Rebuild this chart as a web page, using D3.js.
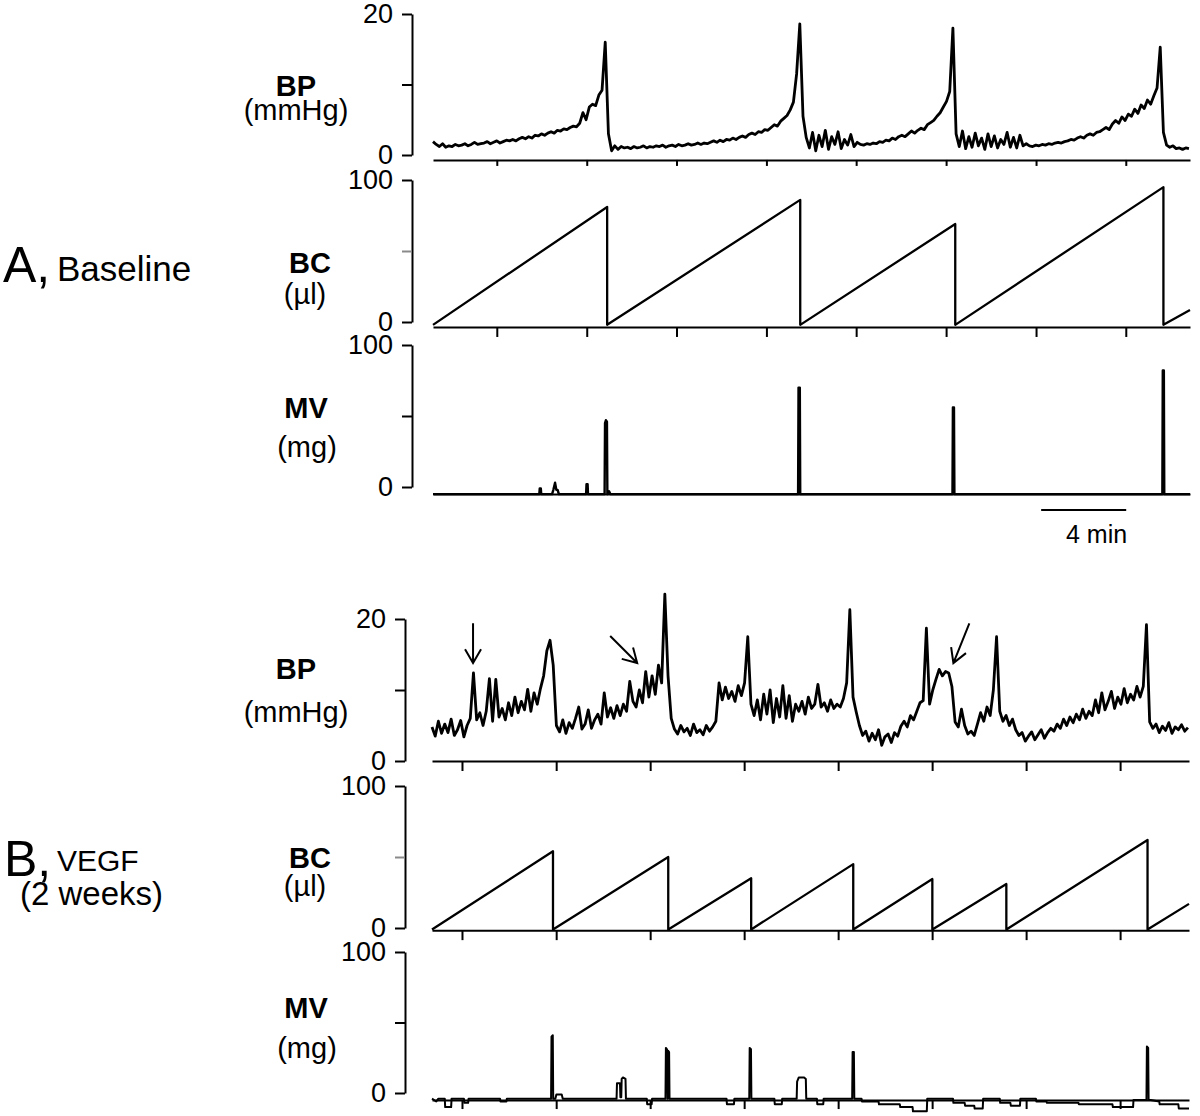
<!DOCTYPE html>
<html>
<head>
<meta charset="utf-8">
<script src="https://cdn.jsdelivr.net/npm/d3@7"></script>
<style>
  body { margin: 0; background: #fff; }
  svg text { font-family: 'Liberation Sans', Arial, Helvetica, sans-serif; fill: #000; }
</style>
</head>
<body>
<svg id="chart" width="1200" height="1116"></svg>
<script>
// ---- data (time in minutes) ----

// bladder pressure, one sample every 0.15 min
const bpStep = 0.15;
const bpBaseline = [
	1.9, 1.5, 1.2, 1.6, 1.1, 1.3, 1.2, 1.5, 1.3, 1.4, 1.6, 1.3,
	1.5, 1.8, 1.5, 1.6, 1.7, 1.9, 1.6, 1.8, 2.0, 1.7, 1.9, 2.1,
	2.0, 2.2, 2.0, 2.3, 2.5, 2.3, 2.6, 2.4, 2.8, 2.7, 3.0, 2.8,
	3.1, 3.3, 3.1, 3.5, 3.4, 3.7, 3.6, 3.9, 4.1, 4.0,
	4.5, 6.0, 5.0, 6.8, 7.2, 7.0, 8.5, 9.2, 16.0, 3.0, 0.6, 1.3, 0.8, 1.2,
	1.0, 1.1, 0.9, 1.2, 1.0, 1.1, 1.3, 1.0, 1.2, 1.1, 1.3, 1.2, 1.4, 1.1, 1.3, 1.4, 1.2, 1.5, 1.3, 1.4, 1.6, 1.4, 1.5, 1.7, 1.5,
	1.7, 1.6, 1.8, 2.0, 1.8, 2.1, 1.9, 2.2, 2.1, 2.4, 2.2, 2.5,
	2.7, 2.5, 2.9, 3.1, 2.9, 3.3, 3.2, 3.6, 3.5, 3.9,
	4.3, 4.1, 4.8, 5.2, 5.6, 6.4, 7.5, 11.5,
	18.6,
	5.5, 2.5, 1.0, 3.2, 0.6, 2.8, 1.2, 3.5, 0.8, 2.6, 1.5, 3.3, 0.9, 2.2, 1.4, 2.9, 1.2, 1.8, 1.5,
	1.4, 1.6, 1.5, 1.7, 1.6, 1.9, 1.8, 2.1, 2.0, 2.4, 2.2, 2.6,
	2.8, 2.6, 3.0, 3.4, 3.1, 3.5, 3.8, 3.6, 4.3, 4.6,
	4.9, 5.5, 6.0, 6.8, 7.6, 9.0,
	18.0,
	3.0, 1.2, 3.4, 0.9, 2.6, 1.1, 3.1, 1.3, 2.4, 0.8, 3.0, 1.2, 2.7, 1.0, 2.2, 1.5, 3.2, 1.1, 2.5, 1.0, 2.8, 1.3, 1.6,
	1.3, 1.2, 1.4, 1.3, 1.5, 1.4, 1.6, 1.5, 1.7, 1.8, 1.7,
	1.9, 2.0, 2.2, 2.1, 2.4, 2.6, 2.4, 2.8, 3.0, 2.8, 3.2, 3.3,
	3.6, 3.9, 3.6, 4.4, 4.9, 4.5, 5.4, 4.9, 5.8,
	5.5, 6.5, 5.9, 7.1, 6.6, 7.8, 7.2, 8.4, 9.5,
	15.3,
	3.2, 1.4, 1.1, 1.3, 0.9, 1.0, 0.8, 1.0, 0.9
];
const bpVegf = [
	4.8, 3.5, 5.6, 3.9, 5.2, 4.0, 5.9, 3.6, 4.4, 5.7, 3.4, 5.0,
	6.0, 12.4,
	5.8, 6.8, 5.0, 7.0,
	11.6, 5.6, 11.5, 6.2,
	7.4, 5.8, 8.2, 6.4, 9.0, 6.8, 8.4, 7.2, 10.1, 7.0, 9.6, 8.0, 10.2,
	12.0, 15.5, 17.0, 13.5,
	5.0, 4.1, 5.8, 3.9, 5.4, 4.6, 6.0, 7.6, 4.5, 5.2, 7.2, 4.6, 5.8, 6.6, 5.2,
	9.6,
	6.2, 7.5, 6.0, 7.8, 6.4, 8.0, 7.0, 11.2, 8.4, 7.6, 10.0, 8.2, 12.6, 9.0, 12.0, 9.4, 13.5, 11.0,
	23.5, 12.0,
	6.0, 4.5, 3.8, 5.0, 4.1, 4.6, 3.6, 5.2, 4.0, 4.4, 3.7, 5.0, 4.2, 4.8, 5.6,
	11.0, 8.6, 10.4, 8.8, 9.8, 8.4, 10.6, 9.2, 11.0,
	17.5, 8.0,
	6.4, 8.6, 5.8, 9.4, 6.6, 10.0, 5.4, 8.8, 6.2, 10.6, 6.0, 9.2, 5.6, 8.0,
	7.0, 8.4, 6.6, 9.0, 7.4, 8.0, 10.8, 7.6, 8.2, 7.0, 8.6, 7.4, 8.0, 7.6, 8.8,
	11.0, 21.3, 9.0, 6.9,
	5.0, 3.6, 4.2, 2.8, 3.9, 3.0, 4.4, 2.2, 3.4, 3.8, 2.6, 4.0, 3.5, 4.9,
	5.6, 4.8, 6.4, 5.8, 7.0, 8.2,
	8.5, 18.7, 8.0,
	10.0, 11.5, 12.9, 12.0, 12.6, 12.4, 10.5,
	5.5,
	4.8, 7.3, 5.0, 3.8, 4.2, 3.6, 5.2, 6.8, 5.6, 7.6, 6.4,
	10.0, 17.5, 7.0,
	5.6, 6.4, 5.0, 5.9, 4.4, 3.6, 4.0, 2.8, 3.5, 4.1, 3.0, 3.7, 4.4, 3.2, 4.0, 4.6,
	4.2, 5.2, 4.6, 5.9, 5.0, 6.2, 5.4, 6.6, 5.8, 7.3, 6.0, 7.0, 6.4, 8.6, 6.8, 9.6, 7.2, 8.4, 9.8, 7.4, 9.0, 8.0, 10.2, 8.2, 9.4, 8.6, 10.5, 9.0,
	10.5, 19.2, 5.5,
	4.6, 5.2, 4.0, 4.9, 4.3, 5.4, 3.9, 4.8, 4.4, 5.1, 4.2, 4.7
];

// bladder capacity: voiding times, volume at voiding, volume at end of record
const bcVoidBaseline = [8.19, 17.27, 24.56, 34.35];
const bcPeakBaseline = [81, 86, 69, 95];
const bcTailBaseline = 8.5;
const bcVoidVegf = [5.69, 11.11, 15.01, 19.81, 23.53, 27.01, 33.65];
const bcPeakVegf = [54, 50, 35, 45, 34.5, 31, 62];
const bcTailVegf = 17;

// micturition volume trace, [time, mg]
const mvBaseline = [
	[0, -5], [5.0, -5], [5.02, -1], [5.07, -1], [5.09, -5],
	[5.6, -5], [5.66, -2], [5.74, 3], [5.8, -2], [5.86, -2], [5.92, -5],
	[7.2, -5], [7.22, 2], [7.27, 2], [7.29, -5],
	[8.07, -5], [8.09, 45], [8.13, 47], [8.18, 46], [8.2, -5], [8.28, -3], [8.34, -5],
	[17.17, -5], [17.19, 70], [17.25, 70], [17.27, -5],
	[24.43, -5], [24.45, 56], [24.5, 56], [24.52, -5],
	[34.3, -5], [34.32, 82], [34.37, 82], [34.39, -5],
	[35.6, -5]
];
const mvVegf = [
	[0, -4], [0.2, -6], [0.3, -4], [0.6, -4], [0.62, -10], [0.9, -10], [0.92, -4], [1.5, -4], [1.52, -7], [1.7, -7], [1.72, -4],
	[3.2, -4], [3.22, -6], [3.5, -6], [3.52, -4],
	[5.6, -4], [5.62, 40], [5.68, 41], [5.7, -4], [5.8, -4], [5.85, -1], [6.1, -1], [6.15, -4],
	[8.68, -4], [8.7, 7], [8.84, 7], [8.86, -3], [8.9, -3], [8.92, 10], [8.98, 11], [9.1, 10], [9.12, -4],
	[10.1, -4], [10.12, -8], [10.33, -8], [10.35, -4],
	[10.98, -4], [11.0, 32], [11.05, 31], [11.08, -4], [11.1, 30], [11.15, 29], [11.17, -4],
	[13.85, -4], [13.87, -8], [14.2, -8], [14.22, -4],
	[14.92, -4], [14.94, 32], [15.0, 31], [15.02, -4],
	[16.1, -4], [16.12, -8], [16.45, -8], [16.47, -4],
	[17.15, -4], [17.17, 8], [17.25, 11], [17.5, 11], [17.58, 10], [17.6, -4],
	[18.1, -4], [18.12, -8], [18.4, -8], [18.42, -4],
	[19.76, -4], [19.78, 29], [19.84, 29], [19.86, -4],
	[20.2, -4], [20.22, -6], [21.0, -6], [21.02, -8], [22.0, -8], [22.02, -10], [22.6, -10], [22.62, -13], [23.27, -13], [23.29, -4],
	[24.5, -4], [24.52, -7], [25.05, -7], [25.07, -9], [25.5, -9], [25.52, -11], [25.9, -11], [25.92, -4],
	[26.7, -4], [26.72, -7], [27.2, -7], [27.22, -9], [27.65, -9], [27.67, -4],
	[28.4, -4], [28.42, -6], [28.9, -6], [28.92, -7], [30.4, -7], [30.42, -8], [32.0, -8], [32.02, -10], [32.97, -10], [32.99, -5],
	[33.6, -5], [33.62, 33], [33.68, 32], [33.7, -5],
	[33.8, -5], [34.2, -6], [34.22, -8], [35.1, -8], [35.12, -11], [35.6, -11]
];

// time ticks under the traces
const tickTimesBaseline = [3.0, 7.23, 11.45, 15.68, 19.9, 24.13, 28.36, 32.58];
const tickTimesVegf = [1.41, 5.84, 10.26, 14.68, 19.1, 23.52, 27.94, 32.36];

// arrows on VEGF BP trace: [tail time, tail mmHg, tip time, tip mmHg]
const arrowsVegf = [
	[1.93, 19.4, 1.93, 13.8],
	[8.38, 17.6, 9.65, 13.8],
	[25.27, 19.4, 24.52, 13.8]
];

// scale bar
const scaleBarStart = 28.6;
const scaleBarMinutes = 4;

// ---- layout ----
const svg = d3.select('#chart');
const tEnd = 35.6;
const xA = d3.scaleLinear().domain([0, tEnd]).range([433, 1190]);
const xB = d3.scaleLinear().domain([0, tEnd]).range([432, 1189]);

const panels = [
	{x: xA, axisX: 412, y0: 155, y1: 14, max: 20, base: -0.7, ticks: tickTimesBaseline, tickLen: 6, title: 'BP', unit: '(mmHg)', cx: 296, cxu: 296, ty: 96, uy: 120},
	{x: xA, axisX: 412, y0: 322, y1: 180, max: 100, base: -3.5, ticks: tickTimesBaseline, tickLen: 10, title: 'BC', unit: '(µl)', cx: 310, cxu: 305, ty: 273, uy: 304, grayMid: true},
	{x: xA, axisX: 412, y0: 487, y1: 345, max: 100, base: -5, ticks: [], tickLen: 0, title: 'MV', unit: '(mg)', cx: 306, cxu: 307, ty: 418, uy: 457},
	{x: xB, axisX: 405, y0: 761, y1: 619, max: 20, base: 0, ticks: tickTimesVegf, tickLen: 10, title: 'BP', unit: '(mmHg)', cx: 296, cxu: 296, ty: 679, uy: 722},
	{x: xB, axisX: 405, y0: 928, y1: 786, max: 100, base: -1.5, ticks: tickTimesVegf, tickLen: 10, title: 'BC', unit: '(µl)', cx: 310, cxu: 305, ty: 868, uy: 896, grayMid: true},
	{x: xB, axisX: 405, y0: 1093, y1: 952, max: 100, base: -5, ticks: tickTimesVegf, tickLen: 9, title: 'MV', unit: '(mg)', cx: 306, cxu: 307, ty: 1018, uy: 1058}
];

panels.forEach((p) => {
	p.y = d3.scaleLinear().domain([0, p.max]).range([p.y0, p.y1]);
	const mid = p.max / 2;

	// left axis bracket
	const ax = svg.append('g')
		.attr('transform', `translate(${p.axisX},0)`)
		.call(d3.axisLeft(p.y)
			.tickValues([0, mid, p.max])
			.tickSize(10)
			.tickSizeOuter(0)
			.tickPadding(9)
			.tickFormat((d) => (d === mid ? '' : d)));
	ax.selectAll('path, line').attr('stroke', '#000').attr('stroke-width', 2);
	ax.selectAll('text').style('font-size', '27px').attr('fill', '#000');
	if (p.grayMid) {
		ax.selectAll('.tick').filter((d) => d === mid).select('line').attr('stroke', '#8a8a8a');
	}

	// time baseline with ticks
	const bx = svg.append('g')
		.attr('transform', `translate(0,${p.y(p.base)})`)
		.call(d3.axisBottom(p.x)
			.tickValues(p.ticks)
			.tickSize(p.tickLen)
			.tickSizeOuter(0)
			.tickFormat(''));
	bx.selectAll('path, line').attr('stroke', '#000').attr('stroke-width', 2);

	// trace labels
	svg.append('text')
		.attr('x', p.cx).attr('y', p.ty)
		.attr('text-anchor', 'middle')
		.style('font-size', '29px').style('font-weight', 'bold')
		.text(p.title);
	svg.append('text')
		.attr('x', p.cxu).attr('y', p.uy)
		.attr('text-anchor', 'middle')
		.style('font-size', '29px')
		.text(p.unit);
});

function drawTrace(p, pts, width) {
	const line = d3.line()
		.x((d) => p.x(d[0]))
		.y((d) => p.y(d[1]));
	svg.append('path')
		.datum(pts)
		.attr('d', line)
		.attr('fill', 'none')
		.attr('stroke', '#000')
		.attr('stroke-width', width)
		.attr('stroke-linejoin', 'round');
}

function sawtooth(voids, peaks, tail, zero) {
	const pts = [[0, zero]];
	voids.forEach((t, i) => {
		pts.push([t, peaks[i]]);
		pts.push([t, zero]);
	});
	pts.push([tEnd, tail]);
	return pts;
}

const bpPoints = (vals) => vals.map((v, i) => [i * bpStep, v]);

drawTrace(panels[0], bpPoints(bpBaseline), 2.8);
drawTrace(panels[1], sawtooth(bcVoidBaseline, bcPeakBaseline, bcTailBaseline, -2), 2.3);
drawTrace(panels[2], mvBaseline, 2.4);
drawTrace(panels[3], bpPoints(bpVegf), 2.8);
drawTrace(panels[4], sawtooth(bcVoidVegf, bcPeakVegf, bcTailVegf, -1), 2.3);
drawTrace(panels[5], mvVegf, 2.0);

// arrows marking non-voiding contractions
const pB = panels[3];
arrowsVegf.forEach((a) => {
	const x0 = pB.x(a[0]), y0 = pB.y(a[1]);
	const x1 = pB.x(a[2]), y1 = pB.y(a[3]);
	const ang = Math.atan2(y1 - y0, x1 - x0);
	const len = 16, spread = Math.PI / 6;
	const w1 = [x1 - len * Math.cos(ang - spread), y1 - len * Math.sin(ang - spread)];
	const w2 = [x1 - len * Math.cos(ang + spread), y1 - len * Math.sin(ang + spread)];
	svg.append('path')
		.attr('d', `M${x0},${y0}L${x1},${y1}M${w1[0]},${w1[1]}L${x1},${y1}L${w2[0]},${w2[1]}`)
		.attr('fill', 'none')
		.attr('stroke', '#000')
		.attr('stroke-width', 2);
});

// 4 min scale bar
svg.append('line')
	.attr('x1', xA(scaleBarStart)).attr('x2', xA(scaleBarStart + scaleBarMinutes))
	.attr('y1', 510).attr('y2', 510)
	.attr('stroke', '#000').attr('stroke-width', 2);
svg.append('text')
	.attr('x', 1066).attr('y', 543)
	.style('font-size', '25px')
	.text(`${scaleBarMinutes} min`);

// group labels
svg.append('text').attr('x', 3).attr('y', 282).style('font-size', '50px').text('A,');
svg.append('text').attr('x', 57).attr('y', 281).style('font-size', '35px').text('Baseline');
svg.append('text').attr('x', 4).attr('y', 876).style('font-size', '50px').text('B,');
svg.append('text').attr('x', 57).attr('y', 871).style('font-size', '30px').text('VEGF');
svg.append('text').attr('x', 20).attr('y', 905).style('font-size', '33px').text('(2 weeks)');
</script>
</body>
</html>
